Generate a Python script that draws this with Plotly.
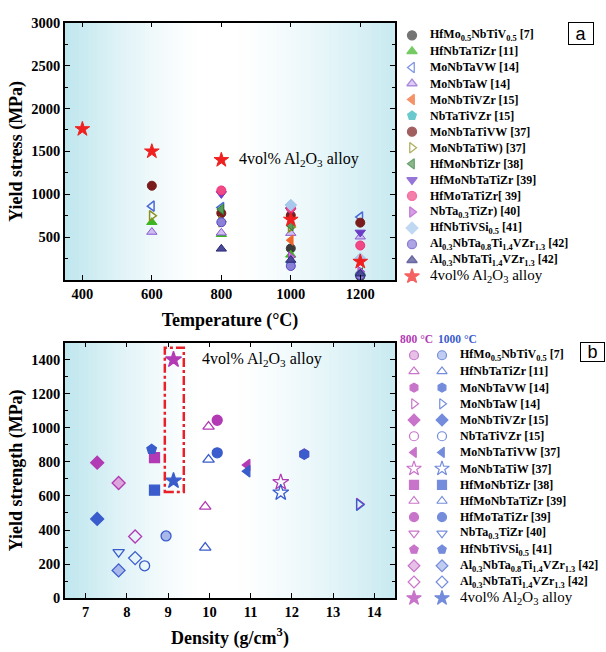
import plotly.graph_objects as go

W, H = 606, 652
SERIF = "Liberation Serif"

# ---------------- panel (a): yield stress vs temperature ----------------
names_a = [
    "HfMo<sub>0.5</sub>NbTiV<sub>0.5</sub> [7]", "HfNbTaTiZr [11]", "MoNbTaVW [14]", "MoNbTaW [14]",
    "MoNbTiVZr [15]", "NbTaTiVZr [15]", "MoNbTaTiVW [37]", "MoNbTaTiW) [37]", "HfMoNbTiZr [38]",
    "HfMoNbTaTiZr [39]", "HfMoTaTiZr[ 39]", "NbTa<sub>0.3</sub>TiZr) [40]", "HfNbTiVSi<sub>0.5</sub> [41]",
    "Al<sub>0.3</sub>NbTa<sub>0.8</sub>Ti<sub>1.4</sub>VZr<sub>1.3</sub> [42]",
    "Al<sub>0.3</sub>NbTaTi<sub>1.4</sub>VZr<sub>1.3</sub> [42]", "4vol% Al<sub>2</sub>O<sub>3</sub> alloy"]
temps_a = [
    [1000, 1200], [600, 800, 1000, 1200], [600, 800, 1000, 1200], [600, 800, 1000, 1200],
    [800, 1000], [1000], [600, 800, 1000, 1200], [600, 800, 1000], [800, 1000, 1200],
    [800, 1000, 1200], [800, 1000, 1200], [1000, 1200], [1000, 1200],
    [800, 1000, 1200], [800, 1000, 1200], [400, 600, 800, 1000, 1200]]
stress_a = [
    [370, 45], [675, 535, 295, 92], [862, 846, 842, 735], [561, 552, 548, 506],
    [795, 466], [190], [1100, 780, 755, 670], [750, 680, 620], [825, 635, 85],
    [1005, 812, 556], [1045, 840, 404], [270, 100], [875, 250],
    [675, 165, 60], [365, 235, 75], [1760, 1500, 1400, 705, 215]]
symbols_a = ["circle", "triangle-up", "triangle-left-open", "triangle-up", "triangle-left", "pentagon",
             "circle", "triangle-right-open", "triangle-left", "triangle-down", "circle", "triangle-right",
             "diamond", "circle", "triangle-up", "star"]
fills_a = ["#3a3a3a", "#3cb521", "#4a6ad8", "#cdbdf0", "#f2652a", "#2bb3b8", "#7b1c1c", "#8e8e1e",
           "#5a9a5c", "#6a3cc8", "#f04a86", "#c27ad8", "#a8c8ee", "#8b80d8", "#4a4a96", "#f02020"]
edges_a = ["#3a3a3a", "#3cb521", "#4a6ad8", "#8a5ad0", "#f2652a", "#2bb3b8", "#7b1c1c", "#8e8e1e",
           "#2e7d32", "#6a3cc8", "#f0307a", "#b040c8", "#a8c8ee", "#5a48c0", "#2a2a7a", "#f02020"]

# ---------------- panel (b): yield strength vs density ----------------
names_b = [
    "HfMo<sub>0.5</sub>NbTiV<sub>0.5</sub> [7]", "HfNbTaTiZr [11]", "MoNbTaVW [14]", "MoNbTaW [14]",
    "MoNbTiVZr [15]", "NbTaTiVZr [15]", "MoNbTaTiVW [37]", "MoNbTaTiW [37]", "HfMoNbTiZr [38]",
    "HfMoNbTaTiZr [39]", "HfMoTaTiZr [39]", "NbTa<sub>0.3</sub>TiZr [40]", "HfNbTiVSi<sub>0.5</sub> [41]",
    "Al<sub>0.3</sub>NbTa<sub>0.8</sub>Ti<sub>1.4</sub>VZr<sub>1.3</sub> [42]",
    "Al<sub>0.3</sub>NbTaTi<sub>1.4</sub>VZr<sub>1.3</sub> [42]", "4vol% Al<sub>2</sub>O<sub>3</sub> alloy"]
density_b = [8.95, 9.9, 12.3, 13.63, 7.28, 8.43, 10.92, 11.73, 8.67, 9.98, 10.19, 7.8, 8.6, 7.8, 8.2, 9.13]
strength_800 = [None, 537, 846, 552, 795, None, 781, 680, 825, 1007, 1044, None, None, 676, 362, 1400]
strength_1000 = [365, 297, 845, 548, 465, 190, 745, 619, 634, 813, 853, 270, 873, 163, 235, 689]
symbols_b = ["circle", "triangle-up-open", "hexagon", "triangle-right-open", "diamond", "circle-open",
             "triangle-left", "star-open", "square", "triangle-up-open", "circle", "triangle-down-open",
             "pentagon", "diamond", "diamond-open", "star"]
half_b = [True, False, False, False, False, False, False, False, False, False, False, False, False,
          True, False, False]
COL_800 = "#b23ab4"
COL_1000 = "#3a5ccc"
LIGHT_800 = "#dca6dc"
LIGHT_1000 = "#a8b8ea"

# ---------------- geometry (pixels) ----------------
PX_L, PX_R = 65, 395
A_T, A_B = 15, 279
B_T, B_B = 343, 605


def fx(px):
    return px / W


def fy(py):
    return 1 - py / H


def msize(sym, base):
    return base + 2 if sym.startswith("star") else base


fig = go.Figure()

# panel a traces
for i in range(len(names_a)):
    open_sym = symbols_a[i].endswith("open")
    fig.add_trace(go.Scatter(
        x=temps_a[i], y=stress_a[i], mode="markers", xaxis="x", yaxis="y", showlegend=False,
        marker=dict(symbol=symbols_a[i], size=msize(symbols_a[i], 9),
                    color=fills_a[i], line=dict(color=edges_a[i], width=1.5 if open_sym else 1)),
        cliponaxis=False))

# panel b traces (800 first, 1000 on top)
for vals, col, light in [(strength_800, COL_800, LIGHT_800), (strength_1000, COL_1000, LIGHT_1000)]:
    for i in range(len(names_b)):
        if vals[i] is None:
            continue
        fig.add_trace(go.Scatter(
            x=[density_b[i]], y=[vals[i]], mode="markers", xaxis="x2", yaxis="y2", showlegend=False,
            marker=dict(symbol=symbols_b[i], size=msize(symbols_b[i], 10),
                        color=(light if half_b[i] else col),
                        line=dict(color=col, width=1.3)),
            cliponaxis=False))

# ---------------- manual legends (pixel-space helper axes) ----------------
LEG_A_Y0, LEG_A_DY = 28, 16.47
LEG_B_Y0, LEG_B_DY = 356, 16.6
leg_a_y = [LEG_A_Y0 + i * LEG_A_DY for i in range(len(names_a))]
leg_b_y = [LEG_B_Y0 + i * LEG_B_DY for i in range(len(names_b))]

fig.add_trace(go.Scatter(
    x=[412] * len(names_a), y=leg_a_y, mode="markers", xaxis="x3", yaxis="y3", showlegend=False,
    hoverinfo="skip", cliponaxis=False,
    marker=dict(symbol=symbols_a, size=[msize(s, 9) for s in symbols_a], color=fills_a,
                line=dict(color=edges_a, width=1.3))))
for xm, col, light in [(414, COL_800, LIGHT_800), (442, COL_1000, LIGHT_1000)]:
    fig.add_trace(go.Scatter(
        x=[xm] * len(names_b), y=leg_b_y, mode="markers", xaxis="x3", yaxis="y3", showlegend=False,
        hoverinfo="skip", cliponaxis=False,
        marker=dict(symbol=symbols_b, size=[msize(s, 9) for s in symbols_b],
                    color=[light if h else col for h in half_b], line=dict(color=col, width=1.2))))

annotations = []
for i, nm in enumerate(names_a):
    last = i == len(names_a) - 1
    annotations.append(dict(
        x=428, y=leg_a_y[i], xref="x3", yref="y3", xanchor="left", yanchor="middle", showarrow=False,
        text=nm if last else "<b>" + nm + "</b>",
        font=dict(family=SERIF, size=15 if last else 12, color="black")))
for i, nm in enumerate(names_b):
    last = i == len(names_b) - 1
    annotations.append(dict(
        x=458, y=leg_b_y[i], xref="x3", yref="y3", xanchor="left", yanchor="middle", showarrow=False,
        text=nm if last else "<b>" + nm + "</b>",
        font=dict(family=SERIF, size=15 if last else 12, color="black")))

annotations += [
    dict(x=398, y=339, xref="x3", yref="y3", xanchor="left", yanchor="middle", showarrow=False,
         text="<b>800 °C</b>", font=dict(family=SERIF, size=11.5, color=COL_800)),
    dict(x=436, y=339, xref="x3", yref="y3", xanchor="left", yanchor="middle", showarrow=False,
         text="<b>1000 °C</b>", font=dict(family=SERIF, size=11.5, color=COL_1000)),
    dict(x=581, y=26.5, xref="x3", yref="y3", showarrow=False, text="a",
         font=dict(family="Liberation Sans", size=18, color="black"),
         bordercolor="black", borderwidth=1, borderpad=0, bgcolor="white", width=24, height=21),
    dict(x=592, y=352.5, xref="x3", yref="y3", showarrow=False, text="b",
         font=dict(family="Liberation Sans", size=18, color="black"),
         bordercolor="black", borderwidth=1, borderpad=0, bgcolor="white", width=23, height=18),
    dict(x=845, y=1410, xref="x", yref="y", xanchor="left", yanchor="middle", showarrow=False,
         text="4vol% Al<sub>2</sub>O<sub>3</sub> alloy", font=dict(family=SERIF, size=16, color="black")),
    dict(x=9.77, y=1400, xref="x2", yref="y2", xanchor="left", yanchor="middle", showarrow=False,
         text="4vol% Al<sub>2</sub>O<sub>3</sub> alloy", font=dict(family=SERIF, size=16, color="black")),
]

# ---------------- gradient backgrounds ----------------
shapes = []
N = 70
BASE = (190, 230, 238)


def grad_color(f):
    wl = max(0.0, 1 - f / 0.42) ** 1.4
    wr = max(0.0, (f - 0.5) / 0.5) ** 1.4 * 0.85
    w = max(wl, wr)
    r, g, b = [round(255 - w * (255 - c)) for c in BASE]
    return f"rgb({r},{g},{b})"


for ax in ["x", "x2"]:
    yr = "y" if ax == "x" else "y2"
    for k in range(N):
        f0 = k / N
        f1 = (k + 1) / N
        shapes.append(dict(type="rect", xref=ax + " domain", yref=yr + " domain",
                           x0=f0, x1=min(1, f1 + 0.003), y0=0, y1=1, layer="below",
                           fillcolor=grad_color((f0 + f1) / 2), line=dict(width=0)))

shapes.append(dict(type="rect", xref="x2", yref="y2", x0=8.92, x1=9.38, y0=623, y1=1469,
                   line=dict(color="#e8202a", width=2.5, dash="dashdot"), layer="above"))

axis_common = dict(showline=True, linecolor="black", linewidth=1.5, mirror="ticks", ticks="inside",
                   ticklen=5, tickwidth=1.3, tickcolor="black", showgrid=False, zeroline=False,
                   ticklabeloverflow="allow",
                   tickfont=dict(family=SERIF, size=14.5, color="black", weight="bold"))
title_font = dict(family=SERIF, size=18, color="black", weight="bold")

fig.update_layout(
    width=W, height=H, margin=dict(l=0, r=0, t=0, b=0),
    paper_bgcolor="white", plot_bgcolor="rgba(0,0,0,0)", showlegend=False,
    xaxis=dict(domain=[fx(PX_L), fx(PX_R)], anchor="y", range=[350, 1300],
               tickvals=[400, 600, 800, 1000, 1200],
               title=dict(text="Temperature (°C)", font=title_font, standoff=12), **axis_common),
    yaxis=dict(domain=[fy(A_B), fy(A_T)], anchor="x", range=[0, 3000],
               tickvals=[500, 1000, 1500, 2000, 2500, 3000],
               minor=dict(tickvals=[250, 750, 1250, 1750, 2250, 2750], ticklen=3, ticks="inside",
                          tickcolor="black"),
               title=dict(text="Yield stress (MPa)", font=title_font, standoff=4), **axis_common),
    xaxis2=dict(domain=[fx(PX_L), fx(PX_R)], anchor="y2", range=[6.5, 14.5], dtick=1, tick0=7,
                title=dict(text="Density (g/cm<sup>3</sup>)", font=title_font, standoff=12), **axis_common),
    yaxis2=dict(domain=[fy(B_B), fy(B_T)], anchor="x2", range=[0, 1500], dtick=200, tick0=0,
                minor=dict(dtick=100, ticklen=3, ticks="inside", tickcolor="black"),
                title=dict(text="Yield strength (MPa)", font=title_font, standoff=4), **axis_common),
    xaxis3=dict(domain=[fx(396), 1], anchor="y3", range=[396, W], visible=False, fixedrange=True),
    yaxis3=dict(domain=[0, 1], anchor="x3", range=[H, 0], visible=False, fixedrange=True),
    annotations=annotations, shapes=shapes,
)

fig.write_html("out.html", config={"displayModeBar": False},
               post_script="document.body.style.margin='0';document.body.style.overflow='hidden';")
